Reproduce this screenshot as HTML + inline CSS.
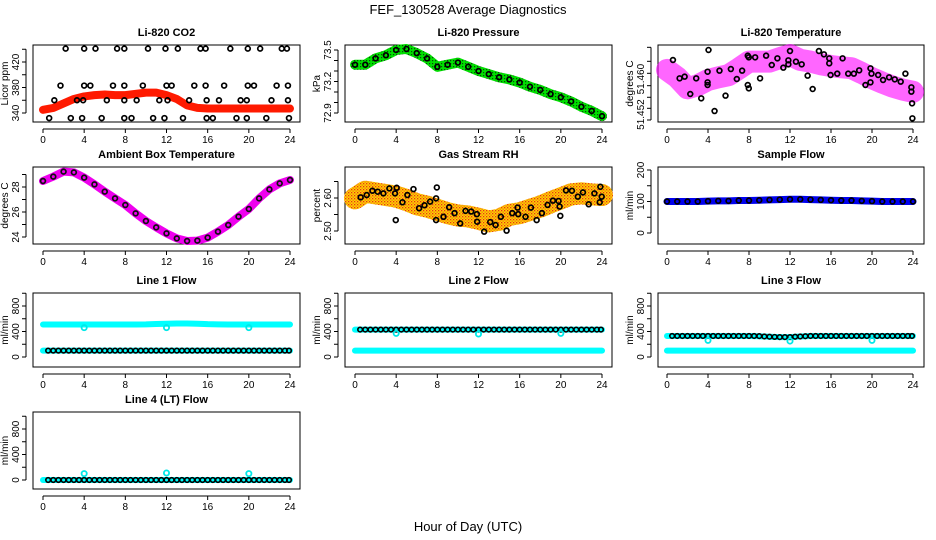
<!DOCTYPE html>
<html><head><meta charset="utf-8">
<style>
body{margin:0;background:#fff;}
svg{display:block;font-family:"Liberation Sans",Arial,sans-serif;}
</style></head>
<body>
<svg id="c" width="936" height="540" viewBox="0 0 936 540" xmlns="http://www.w3.org/2000/svg">
<defs>
<pattern id="rhpat" width="3" height="3" patternUnits="userSpaceOnUse">
<rect width="3" height="3" fill="#ffd400"/><rect x="0" y="0" width="1.3" height="1.3" fill="#e8301a"/><rect x="1.5" y="1.5" width="1.3" height="1.3" fill="#f07010"/>
</pattern>
<pattern id="grpat" width="3" height="3" patternUnits="userSpaceOnUse">
<rect width="3" height="3" fill="#00e000"/><rect x="0" y="0" width="1.2" height="1.2" fill="#0a4a0a"/>
</pattern>
</defs>
<text x="468" y="14" text-anchor="middle" font-size="13">FEF_130528  Average Diagnostics</text>
<text x="468" y="531" text-anchor="middle" font-size="13">Hour of Day (UTC)</text>
</svg>
<script>
// ---------- data ----------
const hours = [0,1,2,3,4,5,6,7,8,9,10,11,12,13,14,15,16,17,18,19,20,21,22,23,24];
const halfHours = [0.5,1,1.5,2,2.5,3,3.5,4,4.5,5,5.5,6,6.5,7,7.5,8,8.5,9,9.5,10,10.5,11,11.5,12,12.5,13,13.5,14,14.5,15,15.5,16,16.5,17,17.5,18,18.5,19,19.5,20,20.5,21,21.5,22,22.5,23,23.5,23.9];

const co2Band = [345,348,355,362,366,368,369,368,368,370,372,372,368,362,352,348,347,347,347,347,347,347,347,347,347];
const co2BlackHours = [2.2,4.0,5.1,7.2,7.9,10.2,11.9,13.1,15.3,15.8,18.2,19.9,21.1,23.2,23.7,
 1.7,4.0,4.6,6.8,7.9,9.7,12.0,12.5,14.7,15.8,17.6,19.9,20.5,22.7,23.8,
 1.1,3.3,3.9,6.2,7.9,9.1,11.3,12.1,14.2,15.9,17.1,19.2,19.8,22.2,23.8,
 0.6,2.7,3.8,5.7,7.9,8.6,10.7,11.8,13.6,15.9,16.5,18.8,19.8,21.7,23.9];
const co2BlackVals = [441,441,441,441,441,441,441,441,441,441,441,441,441,441,441,
 383,383,383,383,383,383,383,383,383,383,383,383,383,383,383,
 360,360,360,360,360,360,360,360,360,360,360,360,360,360,360,
 332,332,332,332,332,332,332,332,332,332,332,332,332,332,332];

const pressure = [73.36,73.36,73.42,73.45,73.50,73.51,73.47,73.42,73.34,73.36,73.38,73.34,73.30,73.27,73.24,73.22,73.19,73.15,73.12,73.08,73.05,73.01,72.96,72.92,72.87];

const tempCloud = [51.4607,51.4590,51.4565,51.4572,51.4584,51.4590,51.4595,51.4610,51.4626,51.4626,51.4626,51.4634,51.4641,51.4630,51.4626,51.4620,51.4616,51.4613,51.4611,51.4600,51.4588,51.4578,51.4569,51.4562,51.4557];
const tempBlackHours = [0.58,1.23,1.72,2.27,2.85,3.34,3.96,3.96,3.96,4.64,4.05,5.12,5.71,6.23,6.81,7.33,7.88,7.98,7.88,7.98,8.6,9.08,9.67,10.22,10.77,11.35,11.84,11.84,12.0,12.58,13.14,13.72,14.21,14.82,15.31,15.83,15.83,15.96,16.61,17.13,17.68,18.23,18.75,19.36,19.85,19.85,19.95,20.6,21.08,21.67,22.22,22.8,23.26,23.84,23.84,23.91,23.94];
const tempBlackVals = [51.46297,51.45878,51.45916,51.45520,51.45878,51.45421,51.46030,51.45787,51.45726,51.45131,51.46526,51.46053,51.45482,51.46091,51.45863,51.46053,51.45726,51.45650,51.46396,51.46358,51.46358,51.45878,51.46396,51.46183,51.46335,51.46122,51.46198,51.46290,51.46503,51.46259,51.46198,51.45939,51.45634,51.46503,51.46427,51.46335,51.46221,51.45954,51.45985,51.46335,51.45985,51.45985,51.46061,51.45726,51.45787,51.46107,51.45985,51.45954,51.45840,51.45901,51.45855,51.45802,51.45985,51.45672,51.45573,51.45307,51.44964];

const ambient = [28.48,28.83,29.23,29.17,28.75,28.21,27.63,27.09,26.56,25.89,25.28,24.77,24.29,23.89,23.68,23.71,23.95,24.43,24.96,25.63,26.24,27.09,27.81,28.29,28.56];

const rhCloud = [2.599,2.619,2.614,2.609,2.604,2.594,2.581,2.574,2.564,2.554,2.547,2.544,2.537,2.529,2.534,2.549,2.554,2.564,2.574,2.587,2.599,2.611,2.614,2.611,2.609];
const rhBlackHours = [0.55,1.14,1.69,2.21,2.76,3.34,3.89,4.05,3.96,4.61,5.09,5.68,6.23,6.75,7.3,7.88,7.88,7.95,8.6,9.15,9.67,10.22,10.74,11.29,11.84,11.87,12.55,13.14,13.66,14.17,14.73,15.28,15.8,15.86,16.57,17.09,17.65,18.16,18.71,19.23,19.78,19.88,19.95,20.5,21.08,21.65,22.15,22.71,23.26,23.78,23.84,23.97];
const rhBlackVals = [2.602,2.609,2.622,2.619,2.614,2.629,2.614,2.631,2.533,2.587,2.609,2.627,2.569,2.578,2.589,2.599,2.533,2.632,2.543,2.572,2.554,2.523,2.561,2.559,2.551,2.528,2.498,2.527,2.518,2.543,2.501,2.554,2.571,2.551,2.543,2.571,2.533,2.554,2.579,2.592,2.591,2.574,2.546,2.623,2.622,2.604,2.617,2.581,2.614,2.587,2.634,2.604];

const sampleFlow = [100,100,100,100,101,102,102,103,103,104,105,106,107,107,106,105,104,103,103,102,101,100,100,100,100];

const line1Hi = [510,510,510,510,510,510,510,510,510,510,512,518,522,525,525,522,515,512,510,510,510,510,510,510,510];
const line1Lo = [100,100,100,100,100,100,100,100,100,100,100,100,100,100,100,100,100,100,100,100,100,100,100,100,100];
const line1Black = [100,100,100,100,100,100,100,100,100,100,100,100,100,100,100,100,100,100,100,100,100,100,100,100,100,100,100,100,100,100,100,100,100,100,100,100,100,100,100,100,100,100,100,100,100,100,100,100];
const line1OutHours = [4,12,20];
const line1OutVals = [460,460,460];

const line2Hi = [430,430,430,430,430,430,430,430,430,430,430,430,430,430,430,430,430,430,430,430,430,430,430,430,430];
const line2Lo = [100,100,100,100,100,100,100,100,100,100,100,100,100,100,100,100,100,100,100,100,100,100,100,100,100];
const line2Black = [430,430,430,430,430,430,430,430,430,430,430,430,430,430,430,430,430,430,430,430,430,430,430,430,430,430,430,430,430,430,430,430,430,430,430,430,430,430,430,430,430,430,430,430,430,430,430,430];
const line2OutHours = [4,12,20];
const line2OutVals = [370,360,370];

const line3Hi = [330,330,330,330,330,330,330,330,330,325,318,312,312,322,330,330,330,330,330,330,330,330,330,330,330];
const line3Lo = [100,100,100,100,100,100,100,100,100,100,100,100,100,100,100,100,100,100,100,100,100,100,100,100,100];
const line3Black = [330,330,330,330,330,330,330,330,330,330,330,330,330,330,330,330,330,328,322,318,315,312,312,312,318,322,326,330,330,330,330,330,330,330,330,330,330,330,330,330,330,330,330,330,330,330,330,330];
const line3OutHours = [4,12,20];
const line3OutVals = [260,250,260];

const line4Hi = [0,0,0,0,0,0,0,0,0,0,0,0,0,0,0,0,0,0,0,0,0,0,0,0,0];
const line4Black = [0,0,0,0,0,0,0,0,0,0,0,0,0,0,0,0,0,0,0,0,0,0,0,0,0,0,0,0,0,0,0,0,0,0,0,0,0,0,0,0,0,0,0,0,0,0,0,0];
const line4OutHours = [4,12,20];
const line4OutVals = [100,110,100];

const xTicks = [0,4,8,12,16,20,24];
const flowTicks = [0,200,400,600,800,1000];
const flowLabels = [0,400,800];

// ---------- drawing ----------
const NS = "http://www.w3.org/2000/svg";
const svg = document.getElementById('c');
function mk(tag, attrs, parent){
  const e = document.createElementNS(NS, tag);
  for (const k in attrs) e.setAttribute(k, attrs[k]);
  (parent||svg).appendChild(e);
  return e;
}
const cols = [{l:33,r:300,x0:43,x24:290},{l:345,r:612,x0:355,x24:602},{l:658,r:924,x0:667,x24:913}];
const rows = [{t:45,b:122},{t:167,b:244},{t:293,b:367},{t:412,b:489}];

function makePanel(name, col, row, title, ylab, yv0, yp0, yv1, yp1, yticks, ylabels, ylabelText){
  const c = cols[col], r = rows[row];
  const g = mk('g', {});
  
  
  const P = {g:g, c:c, r:r,
    X: h => c.x0 + (c.x24 - c.x0) * h / 24,
    Y: v => yp0 + (yp1 - yp0) * (v - yv0) / (yv1 - yv0)};
  const box = mk('rect', {x:c.l, y:r.t, width:c.r-c.l, height:r.b-r.t, fill:'none', stroke:'#000', 'stroke-width':1}, g);
  
  
  const t = mk('text', {x:(c.l+c.r)/2, y:r.t-9, 'text-anchor':'middle', 'font-size':11, 'font-weight':'bold'}, g);
  t.textContent = title;
  
  
  const xa = mk('g', {}, g);
  
  
  mk('line', {x1:P.X(0), x2:P.X(24), y1:r.b+7, y2:r.b+7, stroke:'#000'}, xa);
  xTicks.forEach(h => {
    mk('line', {x1:P.X(h), x2:P.X(h), y1:r.b+7, y2:r.b+11, stroke:'#000'}, xa);
    const tl = mk('text', {x:P.X(h), y:r.b+21, 'text-anchor':'middle', 'font-size':10}, xa);
    tl.textContent = h;
  });
  const ya = mk('g', {}, g);
  
  
  const yt = yticks.map(P.Y);
  mk('line', {x1:c.l-7, x2:c.l-7, y1:Math.min(...yt), y2:Math.max(...yt), stroke:'#000'}, ya);
  yt.forEach(y => mk('line', {x1:c.l-11, x2:c.l-7, y1:y, y2:y, stroke:'#000'}, ya));
  ylabels.forEach((v, i) => {
    const y = P.Y(v);
    const tl = mk('text', {x:c.l-14, y:y, 'text-anchor':'middle', 'font-size':10, transform:`rotate(-90 ${c.l-14} ${y})`}, ya);
    tl.textContent = ylabelText ? ylabelText[i] : v;
  });
  const yl = mk('text', {x:c.l-25, y:(r.t+r.b)/2, 'text-anchor':'middle', 'font-size':10, transform:`rotate(-90 ${c.l-25} ${(r.t+r.b)/2})`}, g);
  yl.textContent = ylab;
  
  
  return P;
}
function band(P, xs, vals, color, width, name, op){
  const pts = xs.map((h,i) => P.X(h) + ',' + P.Y(vals[i])).join(' ');
  const pl = mk('polyline', {points:pts, fill:'none', stroke:color, 'stroke-width':width, 'stroke-linecap':'round', 'stroke-linejoin':'round', opacity:op||1}, P.g);
  
  
}
function dots(P, xs, vals, color, name, rr, sw){
  const g = mk('g', {}, P.g);
  
  
  xs.forEach((h,i) => {
    mk('circle', {cx:P.X(h), cy:P.Y(vals[i]), r:rr||2.4, fill:'none', stroke:color, 'stroke-width':sw||1.7}, g);
  });
}

let P = makePanel('co2', 0, 0, 'Li-820 CO2', 'Licor ppm', 340, 113, 420, 62, [340,360,380,400,420,440], [340,380,420]);
band(P, hours, co2Band, '#ff1a00', 8, 'co2-red-series');
dots(P, co2BlackHours, co2BlackVals, '#000', 'co2-black-points');

P = makePanel('pressure', 1, 0, 'Li-820 Pressure', 'kPa', 72.9, 113, 73.5, 50, [72.9,73.0,73.1,73.2,73.3,73.4,73.5], [72.9,73.2,73.5], ['72.9','73.2','73.5']);
band(P, hours, pressure, 'url(#grpat)', 10, 'pressure-green-series');
dots(P, hours, pressure, '#000', 'pressure-black-points');

P = makePanel('li820-temp', 2, 0, 'Li-820 Temperature', 'degrees C', 51.460, 73, 51.452, 108, [51.46587,51.46267,51.45993,51.45710,51.45445,51.45193,51.44926], [51.4586,51.4505], ['51.460','51.452']);
band(P, hours, tempCloud, '#ff00ff', 22, 'temp-magenta-series', 0.6);
dots(P, tempBlackHours, tempBlackVals, '#000', 'temp-black-points');

P = makePanel('ambient', 0, 1, 'Ambient Box Temperature', 'degrees C', 24, 237, 28, 187, [24,25,26,27,28,29], [24,26,28]);
band(P, hours, ambient, '#ee00ee', 8, 'ambient-magenta-series');
dots(P, hours, ambient, '#111', 'ambient-black-points');

P = makePanel('rh', 1, 1, 'Gas Stream RH', 'percent', 2.50, 231, 2.60, 198, [2.50,2.55,2.60,2.65], [2.50,2.60], ['2.50','2.60']);
band(P, hours, rhCloud, 'url(#rhpat)', 22, 'rh-orange-series');
dots(P, rhBlackHours, rhBlackVals, '#000', 'rh-black-points');

P = makePanel('sample-flow', 2, 1, 'Sample Flow', 'ml/min', 0, 233, 200, 170, [0,50,100,150,200], [0,100,200]);
band(P, hours, sampleFlow, '#0000ee', 7, 'sample-flow-blue-series');
dots(P, hours, sampleFlow, '#000', 'sample-flow-black-points');

function flowPanel(name, col, row, title, hi, lo, black, outH, outV){
  const P = makePanel(name, col, row, title, 'ml/min', 0, row===2?357:480, 800, row===2?306:429, flowTicks, flowLabels);
  band(P, hours, hi, '#00ffff', 6, name + '-cyan-high-series');
  if (lo) band(P, hours, lo, '#00ffff', 6, name + '-cyan-low-series');
  dots(P, halfHours, black, '#000', name + '-black-points', 2.3, 1.6);
  dots(P, outH, outV, '#00e8e8', name + '-cyan-outliers', 2.6, 1.8);
}
flowPanel('line1-flow', 0, 2, 'Line 1 Flow', line1Hi, line1Lo, line1Black, line1OutHours, line1OutVals);
flowPanel('line2-flow', 1, 2, 'Line 2 Flow', line2Hi, line2Lo, line2Black, line2OutHours, line2OutVals);
flowPanel('line3-flow', 2, 2, 'Line 3 Flow', line3Hi, line3Lo, line3Black, line3OutHours, line3OutVals);
flowPanel('line4-flow', 0, 3, 'Line 4 (LT) Flow', line4Hi, null, line4Black, line4OutHours, line4OutVals);
</script>
</body></html>
